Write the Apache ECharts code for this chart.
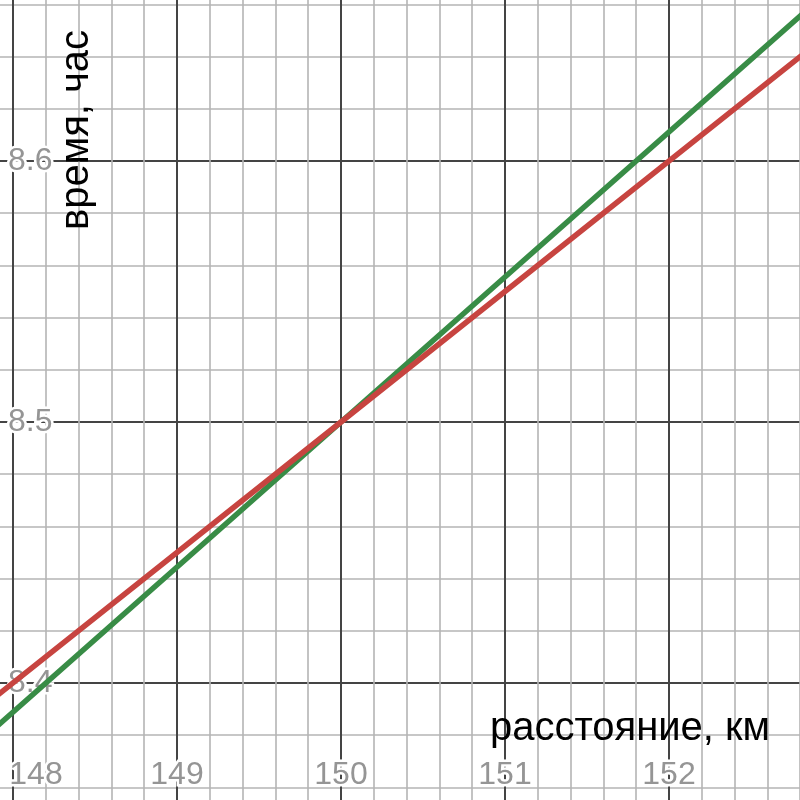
<!DOCTYPE html>
<html>
<head>
<meta charset="utf-8">
<script src="https://cdn.jsdelivr.net/npm/echarts@6/dist/echarts.min.js"></script>
<style>html,body{margin:0;padding:0;background:#fff;}#c{width:800px;height:800px;}</style>
</head>
<body>
<div id="c"></div>
<script>
// Data
const xTitle = 'расстояние, км';
const yTitle = 'время, час';
const xTicks = [148, 149, 150, 151, 152];
const yTicks = [8.4, 8.5, 8.6];
const redLine = [[147, 8.35], [150, 8.5], [153, 8.65]];
const greenLine = [[147, 8.3333], [150, 8.5], [153, 8.6667]];

const chart = echarts.init(document.getElementById('c'), null, {renderer: 'canvas'});
const labelStyle = {
  color: '#959595', fontSize: 32, fontFamily: 'Liberation Sans, Arial, sans-serif',
  textBorderColor: '#fff', textBorderWidth: 5
};
chart.setOption({
  animation: false,
  backgroundColor: '#fff',
  grid: {left: -151, right: -33, top: -100, bottom: -144, containLabel: false, outerBoundsMode: 'none'},
  xAxis: {
    type: 'value', min: 147, max: 153, interval: 1,
    offset: -144,
    axisLine: {show: false}, axisTick: {show: false},
    splitLine: {show: true, lineStyle: {color: '#444', width: 2}},
    minorTick: {show: false, splitNumber: 5},
    minorSplitLine: {show: true, lineStyle: {color: '#b4b4b4', width: 1.6}},
    axisLabel: Object.assign({
      inside: true, margin: 9, hideOverlap: false,
      formatter: function (v) {
        if (xTicks.indexOf(v) < 0) return '';
        if (v === xTicks[0]) return '{p|' + v + '}';
        return String(v);
      },
      rich: {p: Object.assign({padding: [0, 0, 0, 46]}, labelStyle)}
    }, labelStyle)
  },
  yAxis: {
    type: 'value', min: 8.3, max: 8.7, interval: 0.1,
    offset: -151,
    axisLine: {show: false}, axisTick: {show: false},
    splitLine: {show: true, lineStyle: {color: '#444', width: 2}},
    minorTick: {show: false, splitNumber: 5},
    minorSplitLine: {show: true, lineStyle: {color: '#b4b4b4', width: 1.6}},
    axisLabel: Object.assign({
      inside: true, margin: 8, align: 'left', hideOverlap: false,
      formatter: function (v) {
        const r = Math.round(v * 10) / 10;
        return yTicks.some(t => Math.abs(t - r) < 1e-9) && Math.abs(v - r) < 1e-9 ? r.toFixed(1) : '';
      }
    }, labelStyle)
  },
  series: [
    {type: 'line', data: greenLine, showSymbol: false, symbol: 'none', z: 3,
     lineStyle: {color: '#388c46', width: 5.5}},
    {type: 'line', data: redLine, showSymbol: false, symbol: 'none', z: 4,
     lineStyle: {color: '#c74440', width: 5.5}}
  ],
  graphic: [
    {type: 'text', x: 77, y: 130, rotation: Math.PI / 2, z: 10,
     style: {text: yTitle, fontSize: 40, fontFamily: 'Liberation Sans, Arial, sans-serif',
       fill: '#000', align: 'center', verticalAlign: 'middle'}},
    {type: 'text', x: 630, y: 729, z: 10,
     style: {text: xTitle, fontSize: 40, fontFamily: 'Liberation Sans, Arial, sans-serif',
       fill: '#000', align: 'center', verticalAlign: 'middle'}}
  ]
});
</script>
</body>
</html>
